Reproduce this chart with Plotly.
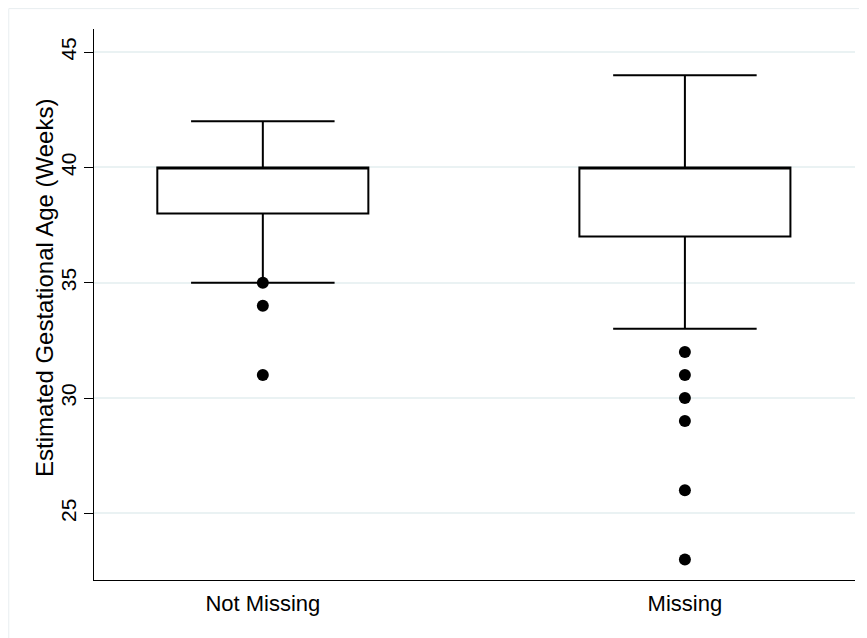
import plotly.graph_objects as go

categories = ["Not Missing", "Missing"]
positions = [0, 1]
q1 = [38, 37]
median = [40, 40]
q3 = [40, 40]
lower_whisker = [35, 33]
upper_whisker = [42, 44]
outliers_not_missing = [35, 34, 31]
outliers_missing = [32, 31, 30, 29, 26, 23]
y_ticks = [25, 30, 35, 40, 45]
y_title = "Estimated Gestational Age (Weeks)"

fig = go.Figure()

fig.add_trace(go.Box(
    x=positions, q1=q1, median=median, q3=q3,
    lowerfence=lower_whisker, upperfence=upper_whisker,
    width=0.5, whiskerwidth=0.68,
    line=dict(color="black", width=2),
    fillcolor="white", boxpoints=False, showlegend=False,
    hoverinfo="skip",
))

fig.add_trace(go.Scatter(
    x=[positions[0]] * len(outliers_not_missing) + [positions[1]] * len(outliers_missing),
    y=outliers_not_missing + outliers_missing,
    mode="markers",
    marker=dict(color="black", size=12),
    showlegend=False,
))

font_family = "Liberation Sans, Arial, sans-serif"

# page body has an 8px margin; the figure is sized/offset to compensate
fig.update_layout(
    width=859, height=630,
    margin=dict(l=86, r=12, t=21, b=58),
    paper_bgcolor="white", plot_bgcolor="white",
    font=dict(family=font_family, size=20, color="black"),
    xaxis=dict(
        range=[-0.4, 1.403],
        tickvals=positions, ticktext=categories,
        showline=True, linecolor="black", linewidth=1,
        ticks="outside", ticklen=4, tickcolor="rgba(0,0,0,0)",
        showgrid=False, zeroline=False,
        tickfont=dict(size=22),
    ),
    yaxis=dict(
        range=[22.11, 46.0],
        tickvals=y_ticks,
        tickangle=-90,
        showline=True, linecolor="black", linewidth=1,
        ticks="outside", ticklen=9, tickcolor="black",
        showgrid=True, gridcolor="#eaf2f3", gridwidth=1.5,
        zeroline=False,
        tickfont=dict(size=21),
    ),
    annotations=[
        dict(text=y_title, xref="paper", yref="paper", x=-0.0644, y=0.53,
             textangle=-90, showarrow=False, xanchor="center", yanchor="middle",
             font=dict(size=24)),
    ],
    shapes=[
        dict(type="line", xref="paper", yref="paper",
             x0=-0.112, x1=1.02, y0=1.037, y1=1.037,
             line=dict(color="#e8eef0", width=1)),
        dict(type="line", xref="paper", yref="paper",
             x0=-0.112, x1=-0.112, y0=1.037, y1=-0.12,
             line=dict(color="#e8eef0", width=1)),
    ],
)

fig.write_html("out.html")
